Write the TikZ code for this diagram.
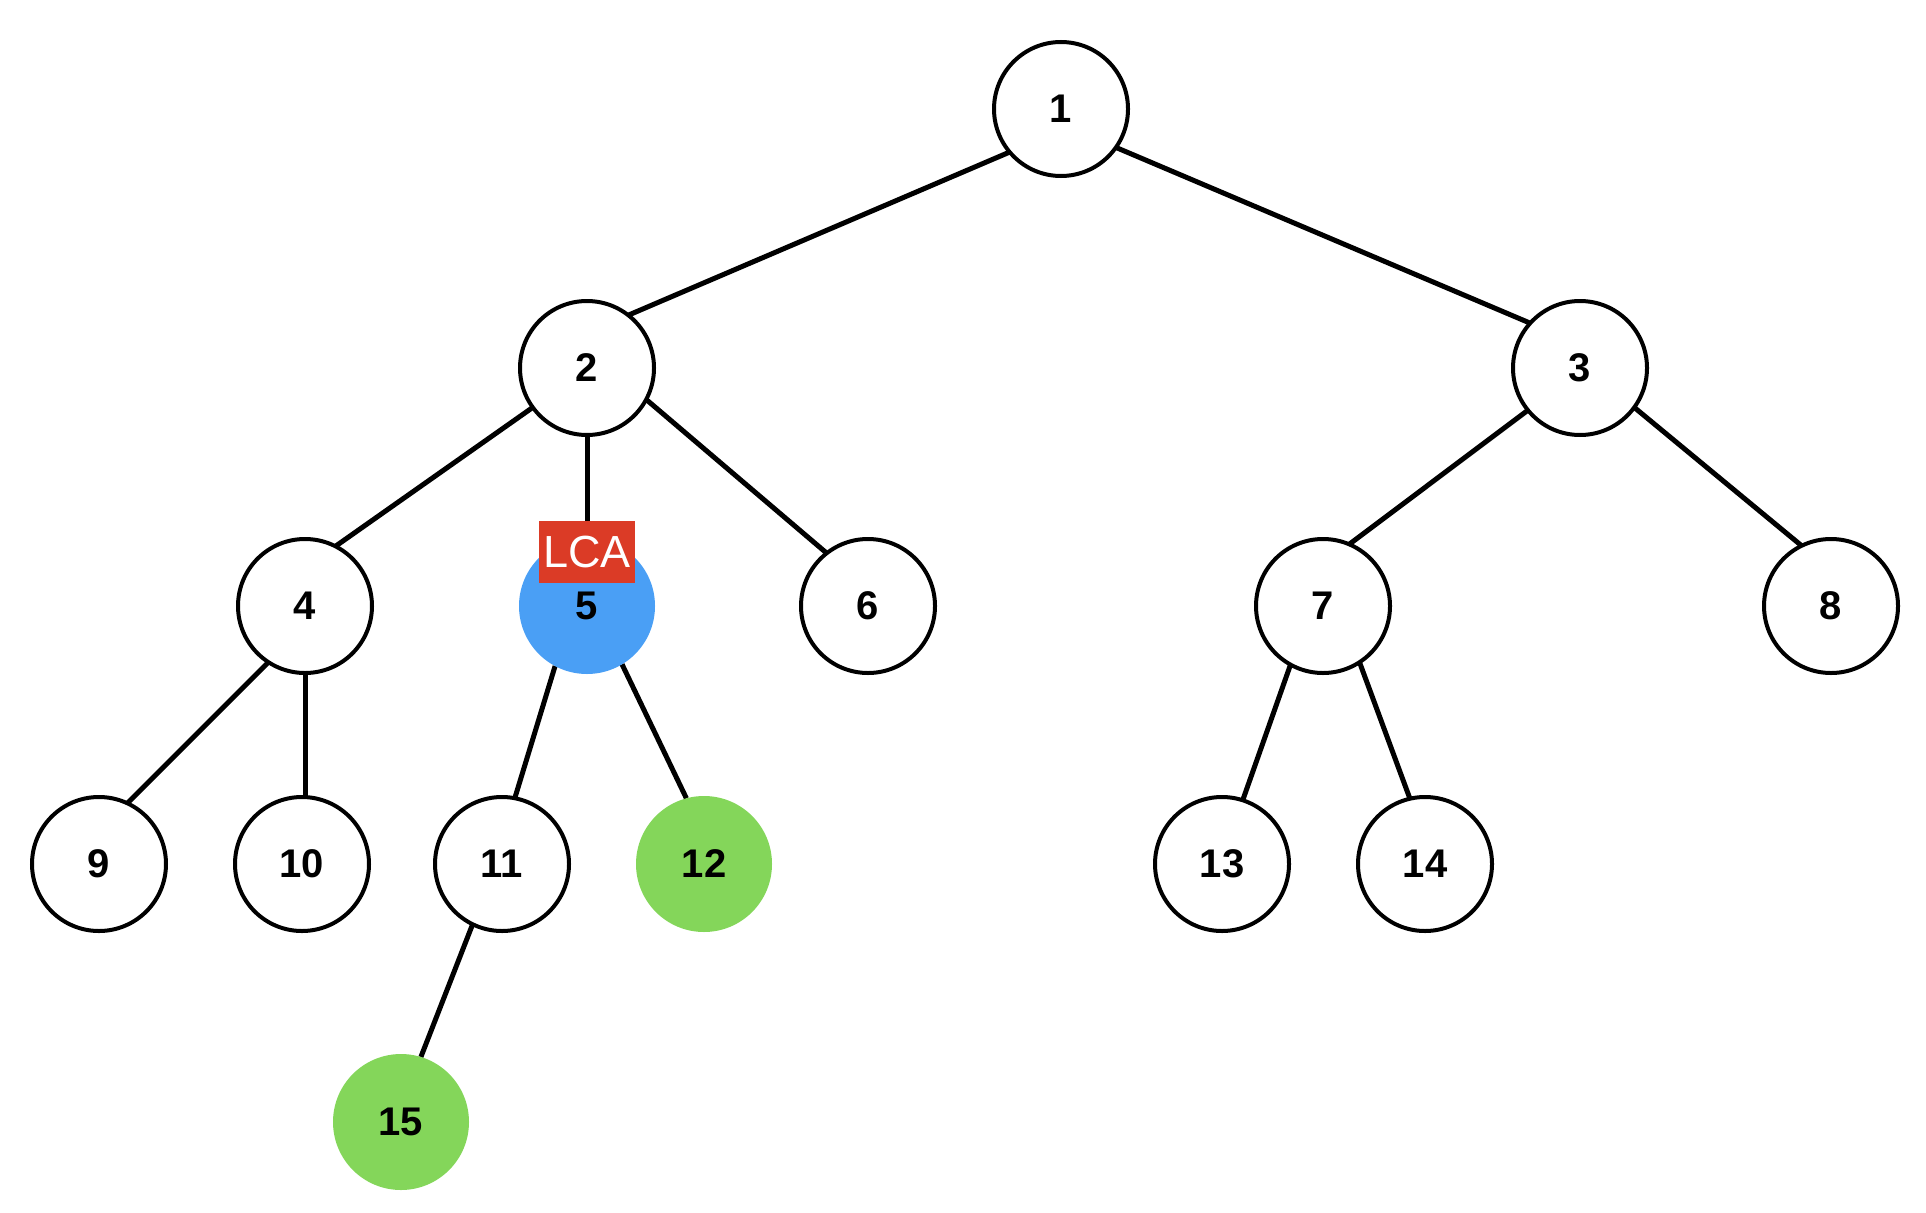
\documentclass[tikz,border=0pt]{standalone}
\usepackage{fontspec}
\setmainfont{Liberation Sans}
\usetikzlibrary{backgrounds}
\definecolor{lcared}{HTML}{DB3B26}
\definecolor{lcablue}{HTML}{4A9FF5}
\definecolor{leafgreen}{HTML}{84D65A}
\begin{document}
\begin{tikzpicture}[x=1pt,y=-1pt,
  tn/.style={circle,draw=black,line width=4pt,fill=white,minimum size=134pt,inner sep=0pt,outer sep=0pt,
    font=\fontsize{40}{40}\selectfont\bfseries},
  bluenode/.style={tn,draw=none,fill=lcablue,minimum size=136pt},
  greennode/.style={tn,draw=none,fill=leafgreen,minimum size=136pt},
  edge/.style={line width=5pt}]
\useasboundingbox (0,0) rectangle (1926,1212);
\node[tn] (n1) at (1061,109) {1};
\node[tn] (n2) at (587,368) {2};
\node[tn] (n3) at (1580,368) {3};
\node[tn] (n4) at (305,606) {4};
\node[bluenode] (n5) at (587,606) {5};
\node[tn] (n6) at (868,606) {6};
\node[tn] (n7) at (1323,606) {7};
\node[tn] (n8) at (1831,606) {8};
\node[tn] (n9) at (99,864) {9};
\node[tn] (n10) at (302,864) {10};
\node[tn] (n11) at (502,864) {11};
\node[greennode] (n12) at (704,864) {12};
\node[tn] (n13) at (1222,864) {13};
\node[tn] (n14) at (1425,864) {14};
\node[greennode] (n15) at (401,1122) {15};
\node[fill=lcared,text=white,minimum width=96pt,minimum height=62pt,inner sep=0pt,
  font=\fontsize{45}{45}\selectfont] (lca) at (587,552) {LCA};
\begin{scope}[on background layer]
\draw[edge] (n1.220) -- (n2.52);
\draw[edge] (n1.325) -- (n3.138);
\draw[edge] (n2.216) -- (n4.63);
\draw[edge] (n2.south) -- (lca.north);
\draw[edge] (n2.332) -- (n6.128);
\draw[edge] (n3.219) -- (n7.67);
\draw[edge] (n3.324) -- (n8.116);
\draw[edge] (n4.237) -- (n9.65);
\draw[edge] (n4.south) -- (n4.south |- n10.north);
\draw[edge] (n5.242) -- (n11.79);
\draw[edge] (n5.301) -- (n12.105);
\draw[edge] (n7.241) -- (n13.72);
\draw[edge] (n7.303) -- (n14.103);
\draw[edge] (n11.244) -- (n15.73);
\end{scope}
\end{tikzpicture}
\end{document}
